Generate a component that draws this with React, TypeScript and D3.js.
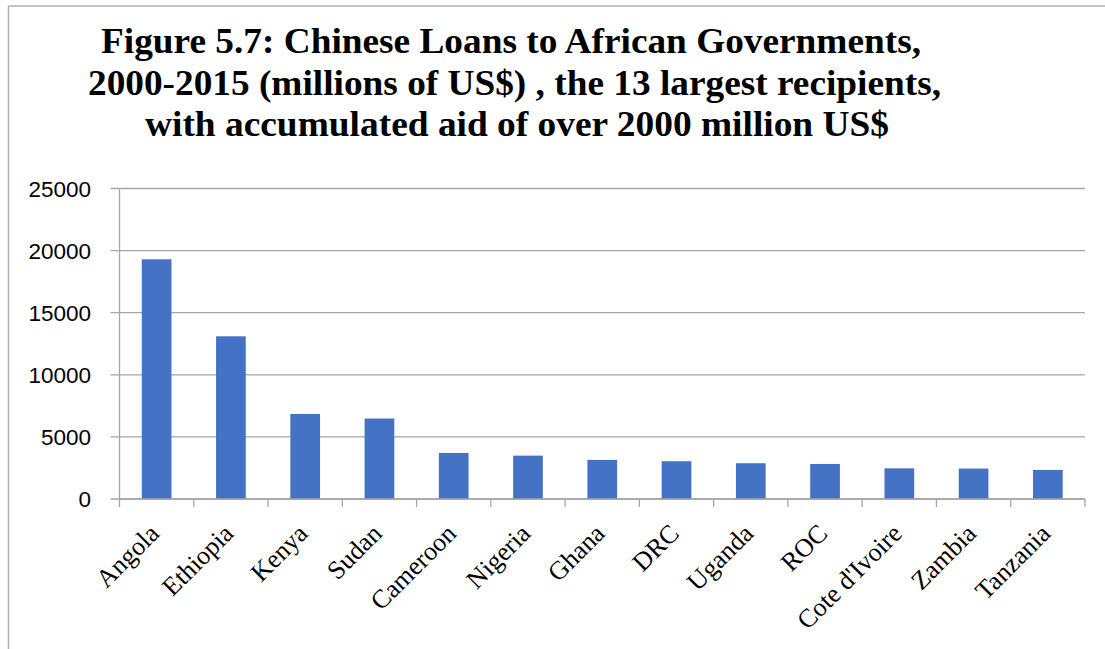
import React from "react";
import * as d3 from "d3";

const categories = ["Angola", "Ethiopia", "Kenya", "Sudan", "Cameroon", "Nigeria", "Ghana", "DRC", "Uganda", "ROC", "Cote d'Ivoire", "Zambia", "Tanzania"];
const loans = [19300, 13100, 6850, 6480, 3710, 3490, 3150, 3040, 2880, 2820, 2470, 2450, 2340];
const yTicks = [0, 5000, 10000, 15000, 20000, 25000];
const titleLines = [
  "Figure 5.7: Chinese Loans to African Governments,",
  "2000-2015 (millions of US$) , the 13 largest recipients,",
  "with accumulated aid of over 2000 million US$",
];

const W = 1105;
const H = 649;
const left = 119.5;
const right = 1085;
const top = 188.5;
const bottom = 499;

export default function App() {
  const x = d3.scaleBand<string>().domain(categories).range([left, right]).paddingInner(0.6).paddingOuter(0.3);
  const y = d3.scaleLinear().domain([0, 25000]).range([bottom, top]);
  const boundaries = d3.range(categories.length + 1).map((i) => left + i * ((right - left) / categories.length));
  const titleX = [101, 88, 145];
  const titleLen = [820, 853, 744];
  const titleY = [53, 95, 136];
  const gridColor = "#a6a6a6";

  return (
    <svg width={W} height={H} style={{ position: "absolute", left: 0, top: 0, background: "#fff" }}>
      <rect x={0} y={0} width={W} height={H} fill="#fff" />
      {/* chart area border */}
      <line x1={8.5} y1={6} x2={W} y2={6} stroke="#b0b0b0" strokeWidth={1.5} />
      <line x1={8.5} y1={6} x2={8.5} y2={H} stroke="#b0b0b0" strokeWidth={1.5} />

      {titleLines.map((t, i) => (
        <text
          key={i}
          x={titleX[i]}
          y={titleY[i]}
          fontFamily="'Liberation Serif', 'Times New Roman', serif"
          fontWeight="bold"
          fontSize={36}
          textLength={titleLen[i]}
          lengthAdjust="spacingAndGlyphs"
          fill="#000"
        >
          {t}
        </text>
      ))}

      {/* gridlines */}
      {yTicks.map((t) => (
        <line key={"g" + t} x1={left - 9} x2={right} y1={y(t)} y2={y(t)} stroke={gridColor} strokeWidth={1.3} />
      ))}
      {/* y axis line */}
      <line x1={left} x2={left} y1={top} y2={bottom} stroke={gridColor} strokeWidth={1.3} />
      {/* y labels */}
      {yTicks.map((t) => (
        <text
          key={"yl" + t}
          x={91}
          y={y(t) + 8}
          textAnchor="end"
          fontFamily="'Liberation Sans', Arial, sans-serif"
          fontSize={22.5}
          fill="#000"
        >
          {t}
        </text>
      ))}

      {/* bars */}
      {categories.map((c, i) => (
        <rect key={c} x={x(c)} y={y(loans[i])} width={x.bandwidth()} height={bottom - y(loans[i])} fill="#4472C4" />
      ))}

      {/* x axis */}
      <line x1={left} x2={right} y1={bottom} y2={bottom} stroke={gridColor} strokeWidth={1.3} />
      {boundaries.map((b, i) => (
        <line key={"t" + i} x1={b} x2={b} y1={bottom} y2={bottom + 8} stroke={gridColor} strokeWidth={1.3} />
      ))}

      {/* category labels */}
      {categories.map((c) => {
        const cx = (x(c) as number) + x.bandwidth() / 2;
        return (
          <text
            key={"xl" + c}
            transform={`translate(${cx + 4},${bottom + 36}) rotate(-45)`}
            textAnchor="end"
            fontFamily="'Liberation Serif', 'Times New Roman', serif"
            fontSize={26}
            fill="#000"
          >
            {c}
          </text>
        );
      })}
    </svg>
  );
}
